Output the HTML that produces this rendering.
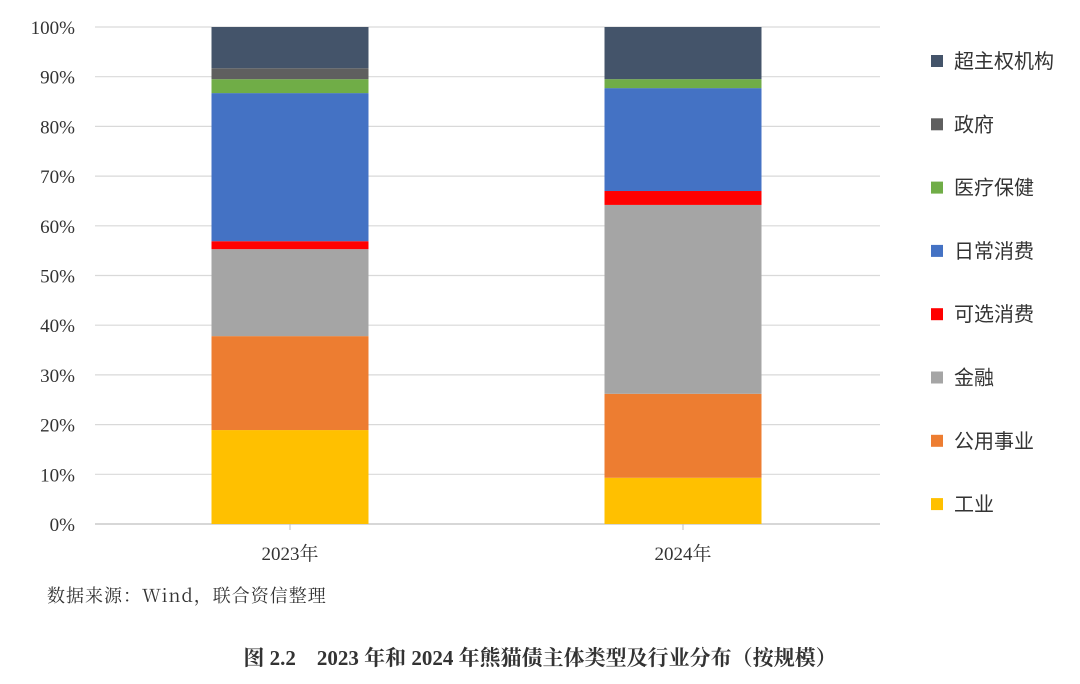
<!DOCTYPE html>
<html><head><meta charset="utf-8">
<style>
body{margin:0;background:#fff;width:1080px;height:679px;overflow:hidden;font-family:"Liberation Serif","Noto Serif CJK SC",serif;}
svg text{fill:#333;}
</style></head>
<body>
<svg width="1080" height="679" xmlns="http://www.w3.org/2000/svg">
<g id="grid"></g><g id="bars"></g><g id="legend"></g>
<text x="47" y="602" font-size="18" font-family="'Noto Serif CJK SC',serif" letter-spacing="1">数据来源：Wind，联合资信整理</text>
<text x="540" y="665" text-anchor="middle" font-size="21" font-weight="bold" fill="#111" font-family="'Liberation Serif','Noto Serif CJK SC',serif">图 2.2　2023 年和 2024 年熊猫债主体类型及行业分布（按规模）</text>
</svg>
<script>
const categories=["2023年","2024年"];
const seriesNames=["工业","公用事业","金融","可选消费","日常消费","医疗保健","政府","超主权机构"];
const colors=["#FFC000","#ED7D31","#A5A5A5","#FF0000","#4472C4","#70AD47","#5f5f5f","#44546A"];
const values2023=[18.9,18.9,17.5,1.6,29.8,2.8,2.2,8.3];
const values2024=[9.3,16.9,38.0,2.8,20.7,1.8,0,10.5];
const yTicks=[0,10,20,30,40,50,60,70,80,90,100];
const data=[values2023,values2024];
const NS="http://www.w3.org/2000/svg";
const y0=524,y1=27,xL=95,xR=880;
const y=v=>y0-(y0-y1)*v/100;
const xc=[290,683],bw=157;
function mk(t,a,p){const e=document.createElementNS(NS,t);for(const k in a)e.setAttribute(k,a[k]);p.appendChild(e);return e;}
const g=document.getElementById('grid');
yTicks.forEach(t=>{
 const l=mk('line',{x1:xL,x2:xR,y1:y(t),y2:y(t),stroke:t===0?'#bfbfbf':'#d9d9d9','stroke-width':1.2},g);
 
 
 const tx=mk('text',{x:75,y:y(t)+7,'text-anchor':'end','font-size':19},g);
 tx.textContent=t+'%';
 
 
});
categories.forEach((c,i)=>{
 const tk=mk('line',{x1:xc[i],x2:xc[i],y1:y0,y2:y0+6,stroke:'#bfbfbf'},g);
 
 
 const tx=mk('text',{x:xc[i],y:560,'text-anchor':'middle','font-size':19},g);
 tx.textContent=c;
 
 
});
const b=document.getElementById('bars');
data.forEach((vals,i)=>{
 let acc=0;
 vals.forEach((v,j)=>{
  if(v<=0)return;
  const r=mk('rect',{x:xc[i]-bw/2,y:y(acc+v),width:bw,height:y(acc)-y(acc+v),fill:colors[j]},b);
  
  
  acc+=v;
 });
});
const lg=document.getElementById('legend');
for(let k=0;k<8;k++){
 const j=7-k,yy=61+k*63.3;
 const it=mk('g',{},lg);
 
 
 mk('rect',{x:931,y:yy-6,width:12,height:12,fill:colors[j]},it);
 const t=mk('text',{x:954,y:yy+7,'font-size':20,'font-family':"'Noto Sans CJK SC',sans-serif"},it);
 t.textContent=seriesNames[j];
}
</script>
</body></html>
